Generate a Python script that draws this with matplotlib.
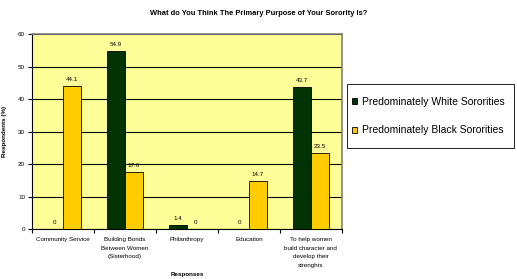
import matplotlib
matplotlib.use("Agg")
import matplotlib.pyplot as plt
from matplotlib.patches import Rectangle
import numpy as np

plt.rcParams['font.family'] = ['Liberation Sans', 'DejaVu Sans']

categories = [
    "Community Service",
    "Building Bonds\nBetween Women\n(Sisterhood)",
    "Philanthropy",
    "Education",
    "To help women\nbuild character and\ndevelop their\nstrenghts",
]
white_vals = [0, 54.9, 1.4, 0, 43.7]
black_vals = [44.1, 17.6, 0, 14.7, 23.5]
series_names = ["Predominately White Sororities", "Predominately Black Sororities"]

W, H = 517, 279
fig = plt.figure(figsize=(W / 100, H / 100), dpi=100)
ax = fig.add_axes([0.062, 0.179, 0.599, 0.699])
ax.set_facecolor("#FFFF99")

x = np.arange(len(categories))
width = 0.29
b1 = ax.bar(x - width / 2, white_vals, width, color="#003300", edgecolor="black",
            linewidth=0.6, label=series_names[0], zorder=3)
b2 = ax.bar(x + width / 2, black_vals, width, color="#FFCC00", edgecolor="black",
            linewidth=0.6, label=series_names[1], zorder=3)

for bars, vals in ((b1, white_vals), (b2, black_vals)):
    for bar, v in zip(bars, vals):
        ax.text(bar.get_x() + bar.get_width() / 2, v + 1.2, f"{v:g}",
                ha="center", va="bottom", fontsize=4.5, zorder=4)

ax.set_xlim(-0.5, len(categories) - 0.5)
ax.set_ylim(0, 60)
ax.set_yticks(range(0, 61, 10))
ax.yaxis.grid(True, color="black", linewidth=0.8, zorder=1)
ax.set_xticks(x)
ax.set_xticklabels(categories, fontsize=4.5, linespacing=1.85)
ax.tick_params(axis="x", length=0, pad=6)
ax.set_xticks(np.arange(-0.5, len(categories)), minor=True)
ax.tick_params(axis="x", which="minor", length=3, width=0.8)
ax.tick_params(axis="y", labelsize=4.5, length=3, width=0.8, pad=2)

for s in ("top", "right"):
    ax.spines[s].set_color("#808080")
    ax.spines[s].set_linewidth(1.2)
for s in ("left", "bottom"):
    ax.spines[s].set_color("black")
    ax.spines[s].set_linewidth(0.8)

ax.set_xlabel("Responses", fontsize=4.5, fontweight="bold", labelpad=3)
ax.set_ylabel("Respondents (%)", fontsize=4.5, fontweight="bold", labelpad=8)
fig.suptitle("What do You Think The Primary Purpose of Your Sorority Is?",
             fontsize=5.4, fontweight="bold", x=0.5, y=0.965)

# legend box drawn separately so its padding matches the original
fig.patches.append(Rectangle((347 / W, 1 - 148 / H), 167 / W, 64 / H,
                             transform=fig.transFigure, facecolor="white",
                             edgecolor="black", linewidth=0.6, zorder=0))
leg = fig.legend(handles=[b1, b2], loc="center left",
                 bbox_to_anchor=(352 / W, 1 - 116 / H), fontsize=7.5,
                 frameon=False, handlelength=0.5, handleheight=0.5,
                 handletextpad=0.45, labelspacing=1.8, borderpad=0,
                 borderaxespad=0)
for h in leg.legend_handles:
    h.set_linewidth(0.6)

fig.savefig("out.png", dpi=100)
